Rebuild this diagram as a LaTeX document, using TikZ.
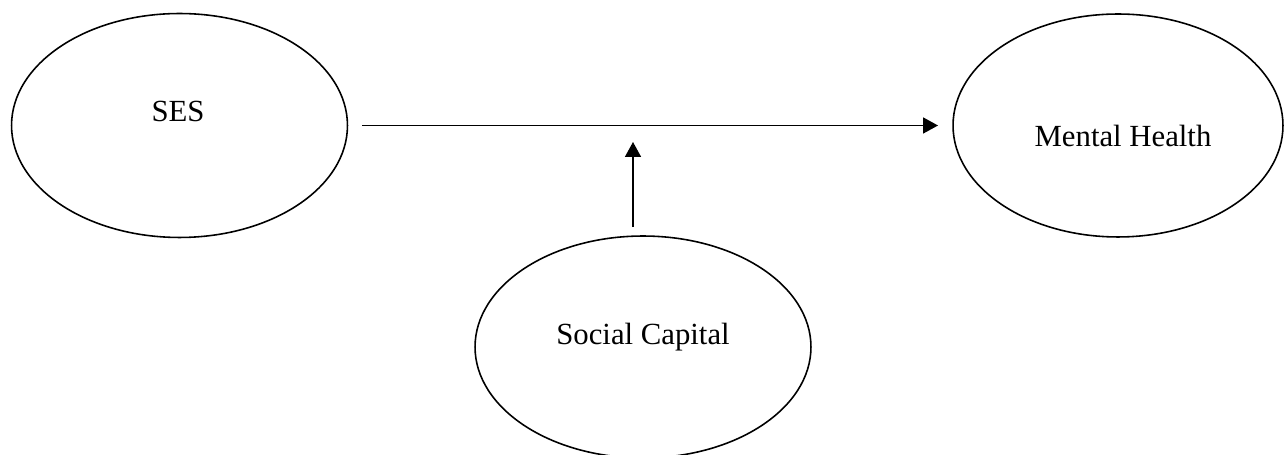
\documentclass[tikz,border=0pt]{standalone}
\usepackage{fontspec}
\setmainfont{Liberation Serif}
\usepackage{tikz}
\usetikzlibrary{shapes.geometric,arrows.meta,positioning,calc}
\tikzset{
  var/.style={draw, ellipse, line width=0.9pt, inner sep=0pt, outer sep=0.3cm, minimum width=6.72cm, minimum height=4.48cm},
  lab/.style={anchor=base, inner sep=0pt, font=\fontsize{17.5}{21}\selectfont},
  arr/.style={-{Triangle[length=0.3cm,width=0.32cm]}, line width=0.9pt}
}

\begin{document}
\begin{tikzpicture}[x=0.02cm, y=-0.02cm]
  \useasboundingbox (0,0) rectangle (1285,455);
  \node[var] (ses) at (179.5,125.5) {};
  \node[var, minimum width=6.6cm, minimum height=4.46cm] (mh) at (1118,125.5) {};
  \node[var, minimum height=4.44cm, outer sep=0.18cm] (sc) at (643,347) {};
  \node[lab] (sestxt) at (178,122) {SES};
  \node[lab] (mhtxt) at (1123,147) {Mental Health};
  \node[lab] (sctxt) at (643,345) {Social Capital};
  \coordinate (mod) at (633,142);
  \draw[arr] (ses.east) -- (mh.west);
  \draw[arr] (sc.north -| mod) -- (mod);
\end{tikzpicture}
\end{document}
